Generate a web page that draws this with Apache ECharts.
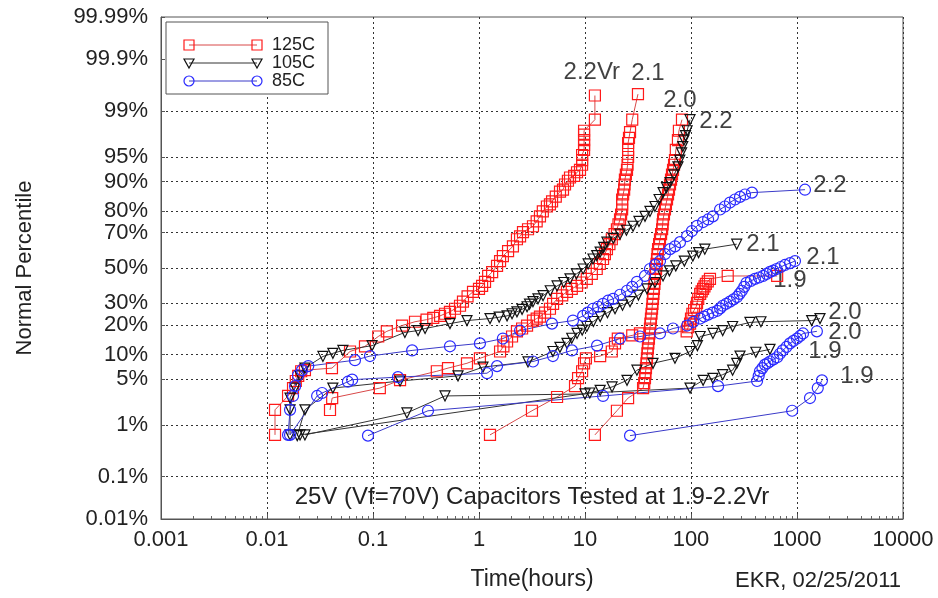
<!DOCTYPE html>
<html>
<head>
<meta charset="utf-8">
<script src="https://cdn.jsdelivr.net/npm/echarts@6/dist/echarts.min.js"></script>
<style>
  html, body { margin: 0; padding: 0; background: #fff; }
  #chart { width: 938px; height: 598px; }
</style>
</head>
<body>
<div id="chart"></div>
<script>
// failure times (hours) vs cumulative percentile
const red22 = [[0.0119,0.67],[0.0119,1.78],[0.0158,2.9],[0.0176,3.76],[0.0187,4.7],[0.0197,5.5],[0.021,6.3],[0.0228,6.5],[0.041,6.9],[0.0607,10.8],[0.084,12.3],[0.112,15.5],[0.135,17.4],[0.188,19.7],[0.249,21.3],[0.32,22.2],[0.37,23.0],[0.429,23.9],[0.478,24.9],[0.532,25.8],[0.594,27.3],[0.662,28.8],[0.706,30.9],[0.78,33.7],[0.878,36.2],[1.0,37.9],[1.07,39.5],[1.14,41.9],[1.22,45.3],[1.33,47.6],[1.48,51.2],[1.58,54.1],[1.68,57.0],[1.88,59.9],[2.09,62.6],[2.28,66.5],[2.44,68.0],[2.6,70.2],[2.9,71.7],[3.23,73.2],[3.5,75.5],[3.76,77.8],[4.0,79.9],[4.37,81.9],[4.67,82.7],[4.89,83.8],[5.3,85.5],[5.81,87.1],[6.2,87.7],[6.48,89.2],[6.9,90.2],[7.22,91.0],[7.9,91.4],[8.41,92.2],[8.97,92.7],[9.39,93.7],[9.39,94.5],[9.39,95.3],[9.8,96.0],[9.8,96.6],[9.8,97.1],[9.8,97.6],[9.8,97.9],[12.4,98.6],[12.4,99.47]];
const red21 = [[0.0393,1.77],[0.0412,2.7],[0.116,3.76],[0.18,4.83],[0.4,6.3],[0.51,6.9],[0.77,7.9],[1.02,9.05],[1.58,10.8],[1.7,12.3],[1.84,13.8],[2.05,15.5],[2.28,17.4],[2.55,18.5],[2.84,19.7],[3.23,21.8],[3.5,22.7],[3.76,23.6],[4.2,25.4],[4.67,27.3],[5.0,29.8],[5.45,32.4],[6.1,34.3],[6.76,36.2],[7.5,37.9],[8.41,39.5],[9.3,41.5],[10.4,43.6],[11.6,46.5],[12.9,49.4],[13.8,52.4],[14.8,55.3],[15.4,58.2],[16.1,61.0],[17.0,63.8],[17.9,66.5],[19.0,69.2],[20.0,71.7],[20.7,74.1],[21.4,76.4],[21.9,78.6],[22.4,80.7],[22.4,82.7],[22.4,84.5],[22.9,86.2],[23.4,87.7],[23.6,89.2],[23.8,90.5],[24.3,91.7],[24.9,92.7],[25.2,93.7],[25.5,95.0],[25.5,96.0],[25.5,96.8],[26.0,97.3],[26.6,97.8],[27.9,98.6],[31.6,99.5]];
const red20 = [[12.4,0.67],[20.0,1.72],[25.5,2.7],[35.3,3.76],[36.2,4.4],[36.8,5.13],[37.2,5.95],[37.6,6.9],[38.0,7.9],[38.4,9.05],[38.8,10.3],[39.2,11.7],[39.6,13.2],[40.1,14.8],[40.5,16.6],[41.0,18.5],[41.4,20.5],[41.9,22.7],[42.4,24.9],[42.9,27.3],[43.3,29.8],[43.8,32.4],[44.2,35.1],[44.7,37.9],[45.2,40.7],[45.7,43.6],[46.2,46.5],[46.8,49.4],[47.3,52.4],[47.8,55.3],[48.3,58.2],[48.9,61.0],[50.0,63.8],[51.0,66.5],[52.2,69.2],[53.4,71.7],[54.0,74.1],[54.5,76.4],[55.6,78.6],[56.8,80.7],[58.0,82.7],[59.4,84.5],[60.7,86.2],[62.0,87.7],[63.4,89.2],[64.8,90.5],[66.2,91.7],[67.7,92.7],[69.2,93.7],[70.6,94.5],[71.9,96.0],[75.3,97.1],[76.9,97.9],[82.2,98.6]];
const red19 = [[1.27,0.67],[3.16,1.72],[5.45,2.8],[8.05,4.0],[8.6,5.13],[9.39,6.3],[9.8,7.9],[10.2,9.05],[13.9,9.6],[17.9,10.8],[19.2,13.2],[20.4,14.8],[27.9,15.9],[33.0,16.6],[91,17.4],[94,19.0],[98,20.5],[100,22.7],[103,24.9],[107,26.6],[112,28.3],[114,30.3],[117,32.4],[122,35.1],[126,36.5],[130,37.9],[134,39.3],[138,40.7],[144,42.1],[151,43.6],[222,45.3],[650,45.3]];

const blk22 = [[0.0165,0.67],[0.0165,1.78],[0.0165,2.7],[0.0184,3.76],[0.0205,5.5],[0.0228,6.9],[0.0337,9.5],[0.0418,10.3],[0.052,11.1],[0.098,12.5],[0.2,17.0],[0.266,17.7],[0.31,18.5],[0.532,20.5],[0.77,21.8],[1.27,22.7],[1.55,23.3],[1.84,23.9],[2.05,24.9],[2.28,25.8],[2.55,27.0],[2.84,28.3],[3.0,29.6],[3.23,30.9],[3.6,32.4],[4.02,34.1],[4.7,36.8],[5.45,39.5],[6.3,41.5],[7.22,43.6],[8.3,46.5],[9.6,49.4],[10.7,52.4],[11.9,55.3],[12.9,57.3],[13.9,59.3],[15.0,62.0],[16.1,64.9],[18.5,67.0],[21.4,69.2],[24.6,71.2],[28.4,73.2],[32.3,75.5],[36.8,77.8],[41.0,79.9],[45.7,81.9],[50.0,84.5],[54.5,86.8],[58.8,88.3],[63.4,89.7],[69.0,91.6],[75.3,93.3],[78.4,94.5],[81.5,95.6],[83.6,96.4],[85.8,97.1],[88.8,97.5],[91.9,97.9],[97.9,98.6]];
const blk21 = [[0.0193,0.65],[0.0228,1.78],[0.0418,3.76],[0.18,4.7],[0.634,5.5],[1.09,7.1],[2.9,8.2],[4.98,10.8],[5.8,12.0],[6.76,13.2],[7.5,14.9],[8.41,16.6],[9.4,17.9],[10.4,19.3],[12.0,21.4],[13.9,23.6],[16.3,25.4],[19.2,27.3],[22.6,29.1],[26.6,30.9],[31.9,34.4],[38.4,37.9],[45.7,41.5],[54.5,45.3],[62.6,48.3],[71.9,51.2],[86.5,54.1],[104,57.0],[118,59.0],[135,61.0],[270,63.8]];
const blk20 = [[0.0228,0.67],[0.209,1.59],[0.478,2.9],[10.0,3.1],[13.9,3.5],[18.0,3.9],[24.9,4.8],[30.9,6.5],[43.8,7.9],[70.6,9.05],[97.9,10.8],[115,12.5],[122,15.5],[161,16.6],[199,17.7],[247,19.3],[360,21.0],[457,21.3],[1375,21.8],[1648,22.7]];
const blk19 = [[0.0205,0.67],[11.1,3.2],[97.9,3.76],[130,4.8],[161,5.1],[199,5.7],[247,6.5],[270,7.9],[290,9.6],[409,10.6],[556,11.4]];

const blu22 = [[0.0158,0.67],[0.0165,1.78],[0.0176,2.9],[0.0184,4.0],[0.0196,5.6],[0.0214,6.5],[0.0245,7.3],[0.0676,8.6],[0.0937,9.6],[0.234,11.1],[0.532,12.3],[1.02,13.2],[1.68,14.8],[2.44,17.7],[4.88,20.5],[7.7,21.8],[9.6,23.9],[10.6,25.4],[11.9,27.3],[13.3,28.3],[14.8,29.8],[16.5,31.4],[18.4,32.4],[21.4,34.6],[24.9,36.8],[27.9,39.0],[30.9,41.9],[36.8,45.3],[41.0,49.4],[45.7,51.8],[51.0,54.1],[56.8,58.2],[63.4,61.0],[70.6,62.6],[78.7,64.9],[91.9,68.2],[102,70.8],[114,73.4],[130,75.2],[145,76.4],[161,77.8],[188,80.7],[209,81.9],[233,83.4],[260,84.5],[290,85.4],[323,86.2],[376,86.8],[1189,87.7]];
const blu21 = [[0.0165,0.67],[0.0297,2.9],[0.0331,3.2],[0.058,4.6],[0.0636,4.9],[0.172,5.3],[1.19,5.95],[1.48,7.3],[3.23,8.3],[4.98,9.6],[7.53,11.1],[13.0,12.5],[21.4,14.8],[33.0,15.5],[51.0,16.6],[67.7,18.5],[91.9,19.7],[105,21.2],[122,22.7],[133,23.6],[145,24.5],[160,25.4],[177,26.3],[188,27.5],[199,28.8],[215,29.8],[233,30.9],[252,32.1],[272,33.4],[287,35.1],[302,36.8],[318,39.0],[334,41.3],[367,42.4],[401,43.6],[438,44.4],[479,45.3],[516,46.5],[556,47.7],[597,48.5],[642,49.4],[703,50.6],[770,51.8],[860,52.9],[957,54.1]];
const blu20 = [[0.0897,0.65],[0.33,1.72],[14.8,2.9],[180,4.0],[420,4.7],[435,5.5],[447,6.3],[472,6.9],[499,7.6],[527,7.9],[556,8.3],[600,8.8],[650,9.3],[690,10.2],[735,11.1],[795,12.1],[858,13.2],[925,14.0],[1000,14.8],[1070,15.7],[1140,16.6],[1540,17.4]];
const blu19 = [[26.6,0.65],[900,1.72],[1326,2.7],[1570,3.76],[1720,4.8]];

// curve labels: [text, hours, percent]
const curveLabels = [
  ['2.2Vr', 11.6, 99.81], ['2.1', 39.3, 99.80], ['2.0', 78.7, 99.35],
  ['2.2', 172, 98.52], ['2.2', 2048, 88.9], ['2.1', 478, 63.8],
  ['2.1', 1758, 56.4], ['1.9', 858, 43.0], ['2.0', 2838, 25.4],
  ['2.0', 2838, 17.0], ['1.9', 1837, 10.8], ['1.9', 3681, 5.45]
];

const pctTicks = [0.01, 0.1, 1, 5, 10, 20, 30, 50, 70, 80, 90, 95, 99, 99.9, 99.99];
const pctTickLabels = ['0.01%', '0.1%', '1%', '5%', '10%', '20%', '30%', '50%', '70%', '80%', '90%', '95%', '99%', '99.9%', '99.99%'];
const pctGrid = [0.1, 1, 5, 10, 20, 30, 50, 70, 80, 90, 95, 99];

// inverse normal CDF (Acklam)
function probit(p) {
  const a = [-3.969683028665376e+01, 2.209460984245205e+02, -2.759285104469687e+02, 1.383577518672690e+02, -3.066479806614716e+01, 2.506628277459239e+00];
  const b = [-5.447609879822406e+01, 1.615858368580409e+02, -1.556989798598866e+02, 6.680131188771972e+01, -1.328068155288572e+01];
  const c = [-7.784894002430293e-03, -3.223964580411365e-01, -2.400758277161838e+00, -2.549732539343734e+00, 4.374664141464968e+00, 2.938163982698783e+00];
  const d = [7.784695709041462e-03, 3.224671290700398e-01, 2.445134137142996e+00, 3.754408661907416e+00];
  const plow = 0.02425;
  let q, r;
  if (p < plow) {
    q = Math.sqrt(-2 * Math.log(p));
    return (((((c[0]*q+c[1])*q+c[2])*q+c[3])*q+c[4])*q+c[5]) / ((((d[0]*q+d[1])*q+d[2])*q+d[3])*q+1);
  }
  if (p <= 1 - plow) {
    q = p - 0.5; r = q * q;
    return (((((a[0]*r+a[1])*r+a[2])*r+a[3])*r+a[4])*r+a[5])*q / (((((b[0]*r+b[1])*r+b[2])*r+b[3])*r+b[4])*r+1);
  }
  q = Math.sqrt(-2 * Math.log(1 - p));
  return -(((((c[0]*q+c[1])*q+c[2])*q+c[3])*q+c[4])*q+c[5]) / ((((d[0]*q+d[1])*q+d[2])*q+d[3])*q+1);
}
const z = (pct) => probit(pct / 100);
const toZ = (arr) => arr.map((p) => [p[0], z(p[1])]);

const RED = '#ff1a1a', RED_LINE = '#d84848';
const BLK = '#111111', BLK_LINE = '#333333';
const BLU = '#2a2aff', BLU_LINE = '#3a3ac8';

function curve(name, data, mark, color, lineColor, rotate) {
  return {
    name: name, type: 'line', data: toZ(data),
    symbol: mark, symbolSize: mark === 'triangle' ? 10 : 11, symbolRotate: rotate || 0,
    showAllSymbol: true,
    lineStyle: { color: lineColor, width: 1 },
    itemStyle: { color: 'rgba(0,0,0,0)', borderColor: color, borderWidth: 1.2 },
    emphasis: { disabled: true }
  };
}

const zMin = z(0.01), zMax = z(99.99);
const tickZ = pctTicks.map(z);
const fmtTick = (v) => {
  for (let i = 0; i < tickZ.length; i++) if (Math.abs(tickZ[i] - v) < 1e-6) return pctTickLabels[i];
  return '';
};

const chart = echarts.init(document.getElementById('chart'));
const FONT = 'Liberation Sans, Arial, sans-serif';

const minorX = [];
[0.001, 0.01, 0.1, 1, 10, 100, 1000].forEach((dec) => {
  for (let k = 2; k <= 9; k++) minorX.push(dec * k);
});

chart.setOption({
  animation: false,
  textStyle: { fontFamily: FONT },
  grid: { left: 161, right: 35, top: 17, bottom: 79, show: true, borderColor: '#555', borderWidth: 1 },
  xAxis: [{
    type: 'log', logBase: 10, min: 0.001, max: 10000,
    name: 'Time(hours)', nameLocation: 'middle', nameGap: 49,
    nameTextStyle: { fontSize: 23, color: '#222' },
    axisLine: { onZero: false, lineStyle: { color: '#555' } },
    axisTick: { inside: true, length: 5, lineStyle: { color: '#555' } },
    axisLabel: { fontSize: 22, color: '#222', margin: 10,
      formatter: (v) => String(v) },
    splitLine: { show: true, lineStyle: { color: '#333', type: [2, 3], width: 1 } }
  }, {
    type: 'log', logBase: 10, min: 0.001, max: 10000, position: 'bottom',
    axisLine: { show: false, onZero: false }, axisLabel: { show: false }, splitLine: { show: false },
    axisTick: { inside: true, length: 3, customValues: minorX, lineStyle: { color: '#666' } }
  }],
  yAxis: [{
    type: 'value', min: zMin, max: zMax,
    name: 'Normal Percentile', nameLocation: 'middle', nameGap: 125, nameRotate: 90,
    nameTextStyle: { fontSize: 22, color: '#222' },
    axisLine: { show: true, onZero: false, lineStyle: { color: '#555' } },
    axisTick: { show: true, inside: true, length: 4, customValues: tickZ, lineStyle: { color: '#555' } },
    axisLabel: { fontSize: 22, color: '#222', margin: 13, customValues: tickZ, formatter: fmtTick },
    splitLine: { show: false }
  }, {
    type: 'value', min: zMin, max: zMax, position: 'left',
    axisLine: { show: false, onZero: false }, axisLabel: { show: false },
    axisTick: { show: false, customValues: pctGrid.map(z) },
    splitLine: { show: true, customValues: pctGrid.map(z), lineStyle: { color: '#333', type: [2, 3], width: 1 } }
  }],
  series: [
    curve('125C 2.2', red22, 'rect', RED, RED_LINE),
    curve('125C 2.1', red21, 'rect', RED, RED_LINE),
    curve('125C 2.0', red20, 'rect', RED, RED_LINE),
    curve('125C 1.9', red19, 'rect', RED, RED_LINE),
    curve('105C 2.2', blk22, 'triangle', BLK, BLK_LINE, 180),
    curve('105C 2.1', blk21, 'triangle', BLK, BLK_LINE, 180),
    curve('105C 2.0', blk20, 'triangle', BLK, BLK_LINE, 180),
    curve('105C 1.9', blk19, 'triangle', BLK, BLK_LINE, 180),
    curve('85C 2.2', blu22, 'circle', BLU, BLU_LINE),
    curve('85C 2.1', blu21, 'circle', BLU, BLU_LINE),
    curve('85C 2.0', blu20, 'circle', BLU, BLU_LINE),
    curve('85C 1.9', blu19, 'circle', BLU, BLU_LINE),
    {
      name: 'labels', type: 'scatter', symbolSize: 0, silent: true,
      data: curveLabels.map((l) => ({ value: [l[1], z(l[2])], name: l[0] })),
      label: { show: true, position: 'inside', formatter: (p) => p.name, fontSize: 24, color: '#111' }
    }
  ],
  graphic: [
    { type: 'rect', shape: { x: 166, y: 22, width: 162, height: 72 },
      style: { fill: '#fff', stroke: '#555', lineWidth: 1 }, z: 100 },
    { type: 'line', shape: { x1: 189, y1: 45, x2: 257, y2: 45 }, style: { stroke: RED_LINE, lineWidth: 1 }, z: 101 },
    { type: 'rect', shape: { x: 184, y: 40, width: 10, height: 10 }, style: { fill: 'none', stroke: RED, lineWidth: 1.2 }, z: 102 },
    { type: 'rect', shape: { x: 252, y: 40, width: 10, height: 10 }, style: { fill: 'none', stroke: RED, lineWidth: 1.2 }, z: 102 },
    { type: 'text', x: 272, y: 45, style: { text: '125C', fontSize: 18, fontFamily: FONT, fill: '#222', verticalAlign: 'middle' }, z: 102 },
    { type: 'line', shape: { x1: 189, y1: 63, x2: 257, y2: 63 }, style: { stroke: BLK_LINE, lineWidth: 1 }, z: 101 },
    { type: 'polygon', shape: { points: [[184, 59], [194, 59], [189, 68]] }, style: { fill: 'none', stroke: BLK, lineWidth: 1.2 }, z: 102 },
    { type: 'polygon', shape: { points: [[252, 59], [262, 59], [257, 68]] }, style: { fill: 'none', stroke: BLK, lineWidth: 1.2 }, z: 102 },
    { type: 'text', x: 272, y: 63, style: { text: '105C', fontSize: 18, fontFamily: FONT, fill: '#222', verticalAlign: 'middle' }, z: 102 },
    { type: 'line', shape: { x1: 189, y1: 81, x2: 257, y2: 81 }, style: { stroke: BLU_LINE, lineWidth: 1 }, z: 101 },
    { type: 'circle', shape: { cx: 189, cy: 81, r: 5 }, style: { fill: 'none', stroke: BLU, lineWidth: 1.2 }, z: 102 },
    { type: 'circle', shape: { cx: 257, cy: 81, r: 5 }, style: { fill: 'none', stroke: BLU, lineWidth: 1.2 }, z: 102 },
    { type: 'text', x: 272, y: 81, style: { text: '85C', fontSize: 18, fontFamily: FONT, fill: '#222', verticalAlign: 'middle' }, z: 102 },
    { type: 'text', x: 532, y: 497, style: { text: '25V (Vf=70V) Capacitors Tested at 1.9-2.2Vr', fontSize: 24, fontFamily: FONT, fill: '#222', align: 'center', verticalAlign: 'middle' }, z: 50 },
    { type: 'text', x: 818, y: 581, style: { text: 'EKR, 02/25/2011', fontSize: 22, fontFamily: FONT, fill: '#222', align: 'center', verticalAlign: 'middle' } }
  ]
});
</script>
</body>
</html>
